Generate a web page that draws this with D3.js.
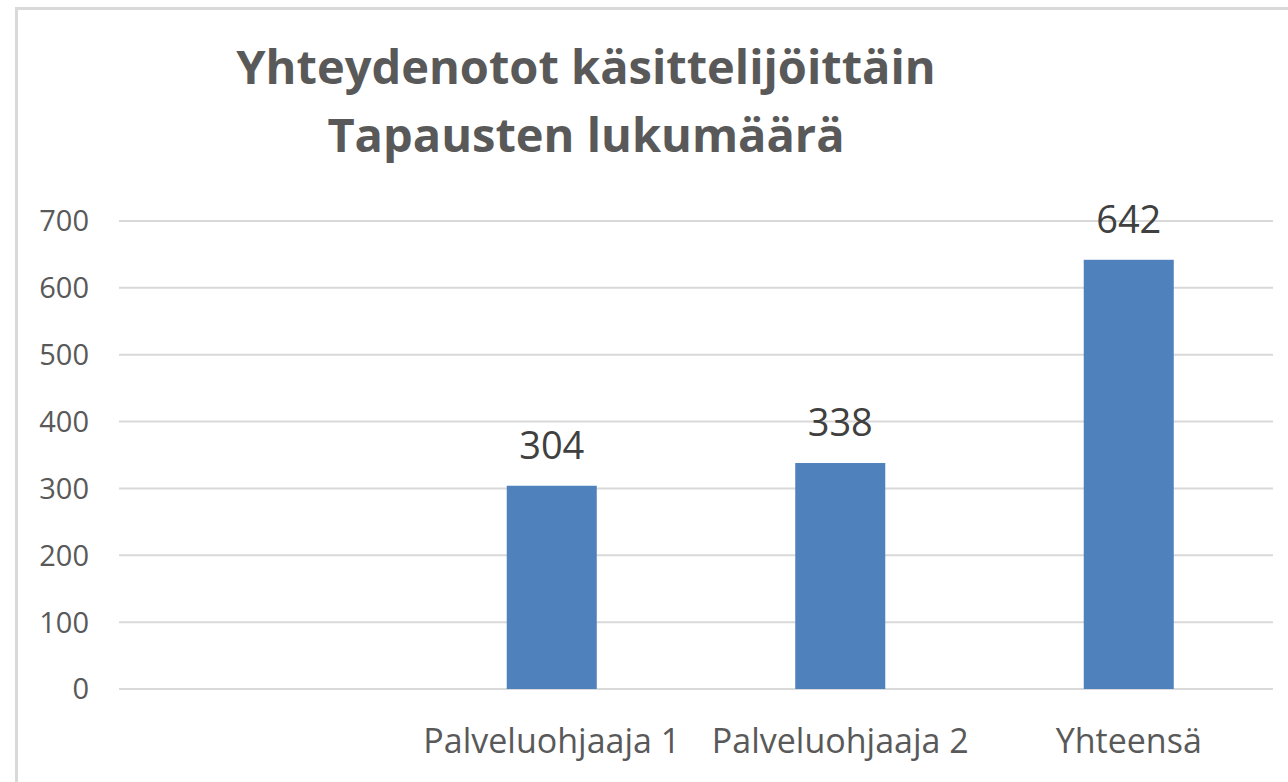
<!DOCTYPE html>
<html>
<head>
<meta charset="utf-8">
<script src="https://cdn.jsdelivr.net/npm/d3@7"></script>
<style>
  body { margin: 0; background: #fff; }
  text { font-family: "Open Sans", "Noto Sans", sans-serif; }
</style>
</head>
<body>
<div id="chart"></div>
<script>
const categories = ['', 'Palveluohjaaja 1', 'Palveluohjaaja 2', 'Yhteensä'];
const values = [null, 304, 338, 642];
const yTicks = [0, 100, 200, 300, 400, 500, 600, 700];
const titleLines = ['Yhteydenotot käsittelijöittäin', 'Tapausten lukumäärä'];

const width = 1288;
const height = 782;
const margin = { top: 221, right: 15, bottom: 93, left: 119 };

const svg = d3.select('#chart')
  .append('svg')
  .attr('width', width)
  .attr('height', height);

// chart frame
svg.append('rect')
  .attr('x', 16.5)
  .attr('y', 8.5)
  .attr('width', width)
  .attr('height', height)
  .attr('fill', 'white')
  .attr('stroke', '#d9d9d9')
  .attr('stroke-width', 3);

const x = d3.scaleBand()
  .domain(categories.map((d, i) => i))
  .range([margin.left, width - margin.right])
  .padding(0);

const y = d3.scaleLinear()
  .domain([0, 700])
  .range([height - margin.bottom, margin.top]);

const barWidth = x.step() * 0.312;

// gridlines
svg.append('g')
  .selectAll('line')
  .data(yTicks)
  .join('line')
  .attr('x1', margin.left)
  .attr('x2', width - margin.right)
  .attr('y1', d => y(d))
  .attr('y2', d => y(d))
  .attr('stroke', '#d9d9d9')
  .attr('stroke-width', 2);

// y tick labels
svg.append('g')
  .selectAll('text')
  .data(yTicks)
  .join('text')
  .attr('x', 89)
  .attr('y', d => y(d))
  .attr('dy', '0.36em')
  .attr('text-anchor', 'end')
  .style('font-size', '29px')
  .style('fill', '#595959')
  .text(d => d);

// bars
const barData = values.map((v, i) => ({ i, v })).filter(d => d.v != null);

svg.append('g')
  .selectAll('rect')
  .data(barData)
  .join('rect')
  .attr('x', d => x(d.i) + x.bandwidth() / 2 - barWidth / 2)
  .attr('y', d => y(d.v))
  .attr('width', barWidth)
  .attr('height', d => y(0) - y(d.v))
  .attr('fill', '#4f81bd');

// data labels
svg.append('g')
  .selectAll('text')
  .data(barData)
  .join('text')
  .attr('x', d => x(d.i) + x.bandwidth() / 2)
  .attr('y', d => y(d.v) - 27)
  .attr('text-anchor', 'middle')
  .style('font-size', '38px')
  .style('fill', '#404040')
  .text(d => d.v);

// category labels
svg.append('g')
  .selectAll('text')
  .data(categories)
  .join('text')
  .attr('x', (d, i) => x(i) + x.bandwidth() / 2)
  .attr('y', 753)
  .attr('text-anchor', 'middle')
  .style('font-size', '34px')
  .style('fill', '#595959')
  .text(d => d);

// title
svg.append('g')
  .selectAll('text')
  .data(titleLines)
  .join('text')
  .attr('x', 586)
  .attr('y', (d, i) => 84 + i * 68)
  .attr('text-anchor', 'middle')
  .style('font-size', '47px')
  .style('font-weight', 'bold')
  .style('fill', '#595959')
  .text(d => d);
</script>
</body>
</html>
